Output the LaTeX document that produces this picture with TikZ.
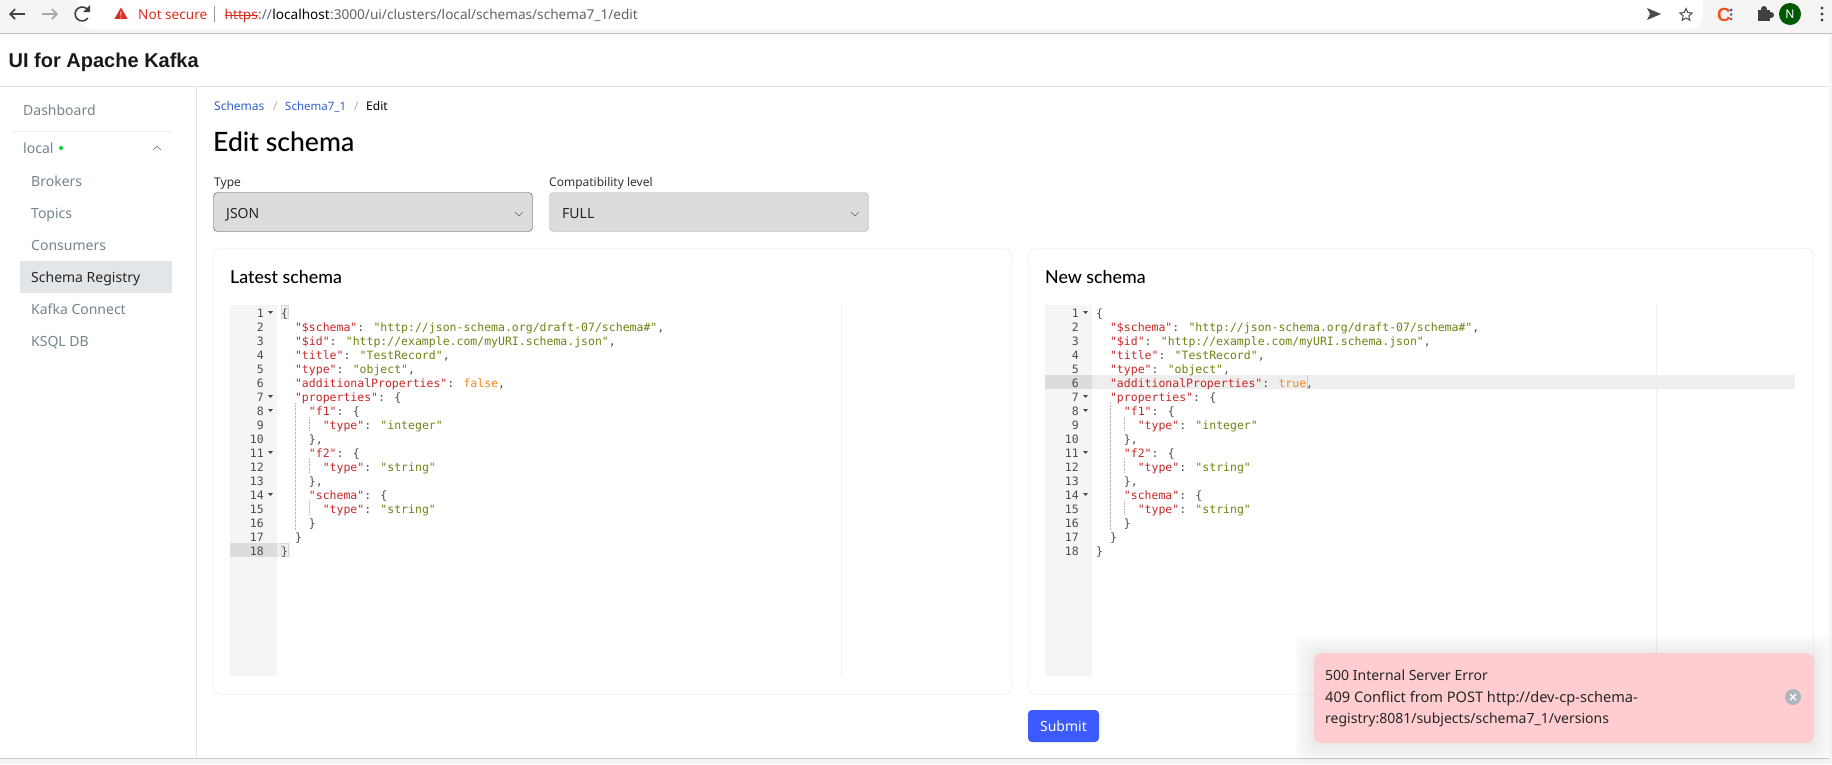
\documentclass[tikz,border=0pt]{standalone}
\usepackage{fontspec}
\setmainfont{Noto Sans}
\newfontfamily\codefont{DejaVu Sans Mono}
\newfontfamily\medfont{Lato Medium}
\newfontfamily\heavyfont{Liberation Sans}
\usetikzlibrary{positioning,shapes.geometric,arrows.meta}

\definecolor{barbg}{HTML}{F5F5F5}
\definecolor{rulegray}{HTML}{E1E4E6}
\definecolor{navgray}{HTML}{73848C}
\definecolor{selbg}{HTML}{E3E6E8}
\definecolor{linkblue}{HTML}{2F5FD0}
\definecolor{fieldbg}{HTML}{DCDCDC}
\definecolor{gutterbg}{HTML}{F5F5F5}
\definecolor{gutteron}{HTML}{DCDCDC}
\definecolor{lineon}{HTML}{EEEEEE}
\definecolor{jsonkey}{HTML}{C82829}
\definecolor{jsonstr}{HTML}{6B8512}
\definecolor{jsonval}{HTML}{F5871F}
\definecolor{jsontxt}{HTML}{4D4D4C}
\definecolor{toastbg}{HTML}{FFCDD0}
\definecolor{submitblue}{HTML}{3D5AFE}
\definecolor{urlgray}{HTML}{5F6368}
\definecolor{warnred}{HTML}{D93025}
\definecolor{closegray}{HTML}{ABB5BA}
\definecolor{extred}{HTML}{F4511E}

\newcommand{\pxfont}[1]{\fontsize{#1}{#1}\selectfont}
\newcommand{\jk}[1]{\textcolor{jsonkey}{"#1"}}
\newcommand{\js}[1]{\textcolor{jsonstr}{"#1"}}

% one editor: gutter, guides and the 18 lines of text
\newcommand{\editorpane}[4]{% gutter left, panel tag, value word, line with the active gutter
  \fill[gutterbg] (#1,305) rectangle ++(47,371);
  \fill[gutteron] (#1,{305+14*(#4-1)}) rectangle ++(47,14);
  \foreach \num in {1,...,18}
    \node[gutternum] (#2num\num) at ({#1+34},{317+14*(\num-1)}) {\num};
  \foreach \num in {1,7,8,11,14}
    \fill[jsontxt] ({#1+38},{311+14*(\num-1)}) -- ++(5,0) -- ++(-2.5,3) -- cycle;
  \draw[guide] ({#1+65},403) -- ++(0,127);
  \foreach \num in {9,12,15}
    \draw[guide] ({#1+79},{417+14*(\num-9)}) -- ++(0,14);
  \foreach \num/\ind/\txt in {
    1/0/{\{},
    2/2/{\jk{\$schema}: \js{http://json-schema.org/draft-07/schema\#},},
    3/2/{\jk{\$id}: \js{http://example.com/myURI.schema.json},},
    4/2/{\jk{title}: \js{TestRecord},},
    5/2/{\jk{type}: \js{object},},
    6/2/{\jk{additionalProperties}: \textcolor{jsonval}{#3},},
    7/2/{\jk{properties}: \{},
    8/4/{\jk{f1}: \{},
    9/6/{\jk{type}: \js{integer}},
    10/4/{\},},
    11/4/{\jk{f2}: \{},
    12/6/{\jk{type}: \js{string}},
    13/4/{\},},
    14/4/{\jk{schema}: \{},
    15/6/{\jk{type}: \js{string}},
    16/4/{\}},
    17/2/{\}},
    18/0/{\}}}
    \node[codeline] (#2line\num) at ({#1+51+6.93*\ind},{317+14*(\num-1)}) {\txt};
}

\begin{document}
\begin{tikzpicture}[x=1pt,y=-1pt,
    every node/.style={inner sep=0pt},
    label/.style={anchor=base west,font=\pxfont{14}},
    urlpart/.style={label,font=\pxfont{13.6}},
    gutternum/.style={anchor=base east,font=\codefont\pxfont{11.5},text=jsontxt},
    codeline/.style={anchor=base west,font=\codefont\pxfont{11.5},text=jsontxt},
    guide/.style={draw=black!30,densely dotted,line width=0.6pt},
    panel/.style={draw=rulegray,fill=white,rounded corners=8pt},
    field/.style={draw=#1,fill=fieldbg,rounded corners=4pt},
    chevron/.style={draw=black!60,line width=0.6pt},
    navitem/.style={label,text=navgray},
    bracemark/.style={draw=black!15,line width=0.6pt,fill=lineon}
  ]
  \useasboundingbox (0,0) rectangle (1832,764);
  \fill[white] (0,0) rectangle (1832,764);

  % browser bar
  \fill[barbg] (0,0) rectangle (1832,33);
  \draw[black!25] (0,33) -- (1832,33);
  \fill[white,rounded corners=14pt] (78,-15) rectangle (1703,29);
  \draw[-{Straight Barb[length=5pt,width=10pt]},line width=1.6pt,black!75] (25,14) -- (9,14);
  \draw[-{Straight Barb[length=5pt,width=10pt]},line width=1.6pt,black!35] (42,14) -- (58,14);
  \draw[line width=1.6pt,black!75] (87.5,9.5) arc (-40:-325:7);
  \fill[black!75] (90,5) -- (90,12) -- (83,12) -- cycle;
  \node[regular polygon,regular polygon sides=3,fill=warnred,minimum size=15pt] (warnsign) at (121,15) {};
  \node[font=\pxfont{9}\bfseries,text=white] (warnmark) at (121,15.5) {!};
  \node[urlpart,text=warnred] (notsecure) at (138,19) {Not secure};
  \draw[black!40] (214,6) -- (214,22);
  \node[urlpart,text=warnred] (urlscheme) at (224.5,19) {https};
  \draw[warnred] (urlscheme.west) -- (urlscheme.east);
  \node[urlpart,text=urlgray,base right=0pt of urlscheme] (urlsep) {://};
  \node[urlpart,text=black,base right=0pt of urlsep] (urlhost) {localhost};
  \node[urlpart,text=urlgray,base right=0pt of urlhost] (urlpath) {:3000/ui/clusters/local/schemas/schema7\_1/edit};
  \fill[black!70] (1647,8) -- (1661,14) -- (1647,20) -- (1650,14) -- cycle;
  \node[star,star points=5,star point ratio=2.2,draw=black!70,line width=1pt,minimum size=13pt] (staricon) at (1686,15) {};
  \node[font=\heavyfont\bfseries\pxfont{19},text=extred] (extletter) at (1724,14.5) {C};
  \fill[blue!70!cyan] (1731,10) circle (1.5);
  \fill[black!60] (1731,14.5) circle (1.5);
  \fill[black!60] (1731,19) circle (1.5);
  \fill[black!75] (1758,10) rectangle (1770,21);
  \fill[black!75] (1764,9) circle (3) (1771,15) circle (3);
  \node[circle,fill=green!35!black,minimum size=22pt,text=white,font=\pxfont{12}] (avatar) at (1790,14) {N};
  \foreach \num in {8,14,20}
    \fill[black!75] (1822,\num) circle (1.7);

  % page frame
  \fill[barbg] (0,758) rectangle (1832,764);
  \draw[black!20] (0,758) -- (1832,758);
  \fill[barbg] (1829,34) rectangle (1832,764);
  \draw[rulegray] (0,86.5) -- (1829,86.5);
  \draw[rulegray] (196.5,86) -- (196.5,758);
  \node[label,font=\heavyfont\bfseries\pxfont{20},text=black!90] (apptitle) at (8.5,67) {UI for Apache Kafka};

  % sidebar
  \node[navitem] (navdash) at (23,115) {Dashboard};
  \draw[rulegray!60] (12,131) -- (172,131);
  \node[navitem] (navlocal) at (23,153) {local};
  \fill[green!70!teal] (61,148) circle (2);
  \draw[chevron] (153,150) -- (157,146) -- (161,150);
  \fill[selbg] (20,261) rectangle (172,293);
  \foreach \y/\name/\txt in {186/brokers/Brokers,218/topics/Topics,250/consumers/Consumers,314/connect/Kafka Connect,346/ksql/KSQL DB}
    \node[navitem] (nav\name) at (31,\y) {\txt};
  \node[label,text=black!85] (navschema) at (31,282) {Schema Registry};

  % breadcrumb and heading
  \node[label,font=\pxfont{12},text=linkblue] (crumbschemas) at (214,110) {Schemas};
  \node[label,font=\pxfont{12},text=black!30] (crumbsepa) at (273,110) {/};
  \node[label,font=\pxfont{11.5},text=linkblue] (crumbsub) at (285,110) {Schema7\_1};
  \node[label,font=\pxfont{12},text=black!30] (crumbsepb) at (354,110) {/};
  \node[label,font=\pxfont{12},text=black] (crumbedit) at (366,110) {Edit};
  \node[label,font=\medfont\pxfont{26.6},text=black] (pagetitle) at (213,151) {Edit schema};

  % selects
  \node[label,font=\pxfont{12},text=black!80] (typelabel) at (214,186) {Type};
  \node[label,font=\pxfont{12},text=black!80] (complabel) at (549,186) {Compatibility level};
  \draw[field=black!70] (213.5,192.5) rectangle (532.5,231.5);
  \draw[field=black!30] (549.5,192.5) rectangle (868.5,231.5);
  \node[label,text=black!85] (typevalue) at (226,218) {JSON};
  \node[label,text=black!85] (compvalue) at (562,218) {FULL};
  \draw[chevron] (515,212) -- (519,216) -- (523,212);
  \draw[chevron] (851,212) -- (855,216) -- (859,212);

  % panels
  \draw[panel] (213.5,248.5) rectangle (1011.5,694.5);
  \draw[panel] (1028.5,248.5) rectangle (1813.5,694.5);
  \node[label,font=\medfont\pxfont{17.8},text=black] (latesttitle) at (230,283.5) {Latest schema};
  \node[label,font=\medfont\pxfont{17.8},text=black] (newtitle) at (1045,283.5) {New schema};
  \draw[rulegray!60] (841,305) -- (841,676);
  \draw[rulegray!60] (1656,305) -- (1656,676);
  \fill[lineon] (1092,375) rectangle (1795,389);
  \fill[lineon] (277,543) rectangle (290,557);
  \draw[bracemark] (281,305.5) rectangle (288,318.5);
  \draw[bracemark] (281,543.5) rectangle (288,556.5);
  \draw[black!20,line width=0.8pt] (1307,375) -- (1307,389);
  \editorpane{230}{latest}{false}{18}
  \editorpane{1045}{new}{true}{6}

  % submit
  \draw[fill=submitblue,draw=none,rounded corners=4pt] (1028,710) rectangle (1099,742);
  \node[font=\pxfont{14},text=white] (submit) at (1063.5,726) {Submit};

  % error toast
  \foreach \num in {1,...,10}
    \fill[black,opacity=0.006,rounded corners=10pt] ({1314-2*\num},{653-2*\num+2}) rectangle ({1814+2*\num},{743+2*\num+2});
  \fill[toastbg,rounded corners=8pt] (1314,653) rectangle (1814,743);
  \node[label,text=black!85] (toasthead) at (1325,680) {500 Internal Server Error};
  \node[label,font=\pxfont{14.6},text=black!85] (toastbodya) at (1325,702) {409 Conflict from POST http://dev-cp-schema-};
  \node[label,text=black!85] (toastbodyb) at (1325,723) {registry:8081/subjects/schema7\_1/versions};
  \node[circle,fill=closegray,minimum size=16pt] (toastclose) at (1793,697) {};
  \draw[white,line width=1.4pt] (1790,694) -- (1796,700) (1796,694) -- (1790,700);
\end{tikzpicture}
\end{document}
